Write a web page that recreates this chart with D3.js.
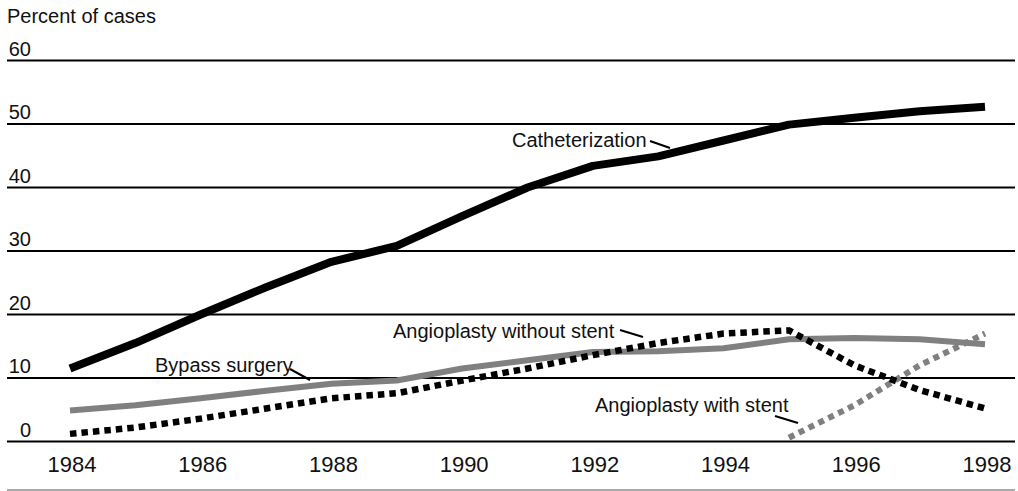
<!DOCTYPE html>
<html>
<head>
<meta charset="utf-8">
<script src="https://cdn.jsdelivr.net/npm/d3@7"></script>
<style>
  body { margin: 0; background: #fff; }
  text { font-family: "Liberation Sans", Arial, sans-serif; fill: #111; }
</style>
</head>
<body>
<div id="chart"></div>
<script>
// data
var years = [1984, 1985, 1986, 1987, 1988, 1989, 1990, 1991, 1992, 1993, 1994, 1995, 1996, 1997, 1998];
var catheterization = [11.5, 15.5, 20, 24.3, 28.3, 30.8, 35.5, 40, 43.4, 44.9, 47.4, 49.9, 51, 52, 52.7];
var bypassSurgery = [4.9, 5.7, 6.8, 8.0, 9.1, 9.6, 11.5, 12.8, 14.1, 14.2, 14.7, 16.1, 16.3, 16.1, 15.3];
var angioNoStent = [1.2, 2.2, 3.6, 5.2, 6.8, 7.6, 9.6, 11.5, 13.6, 15.5, 17.0, 17.5, 12.0, 8.1, 5.2];
var stentYears = [1995, 1996, 1997, 1998];
var angioStent = [0.6, 5.7, 12.0, 17.0];
var yTicks = [0, 10, 20, 30, 40, 50, 60];
var xTicks = [1984, 1986, 1988, 1990, 1992, 1994, 1996, 1998];

var width = 1018, height = 491;

var svg = d3.select('#chart').append('svg')
    .attr('width', width)
    .attr('height', height);

var x = d3.scaleLinear().domain([1984, 1998]).range([70, 985]);
var y = d3.scaleLinear().domain([0, 60]).range([441.5, 60.5]);

// gridlines
svg.selectAll('.grid')
    .data(yTicks)
    .enter().append('line')
        .attr('x1', 7).attr('x2', 1015)
        .attr('y1', function(d) { return y(d); })
        .attr('y2', function(d) { return y(d); })
        .attr('stroke', '#000')
        .attr('stroke-width', 2);

svg.selectAll('.ylab')
    .data(yTicks)
    .enter().append('text')
        .attr('x', 31)
        .attr('y', function(d) { return y(d) - 5; })
        .attr('text-anchor', 'end')
        .style('font-size', '20px')
        .text(function(d) { return d; });

svg.append('text')
    .attr('x', 7).attr('y', 23)
    .style('font-size', '20px')
    .text('Percent of cases');

svg.selectAll('.xlab')
    .data(xTicks)
    .enter().append('text')
        .attr('x', function(d) { return x(d) + 2; })
        .attr('y', 472)
        .attr('text-anchor', 'middle')
        .style('font-size', '22px')
        .text(function(d) { return d; });

// bottom rule
svg.append('line')
    .attr('x1', 7).attr('x2', 1015)
    .attr('y1', 490).attr('y2', 490)
    .attr('stroke', '#aaa')
    .attr('stroke-width', 2);

var line = d3.line()
    .x(function(d) { return x(d[0]); })
    .y(function(d) { return y(d[1]); });

function addSeries(xs, vals, color, w, dash) {
    var p = svg.append('path')
        .datum(d3.zip(xs, vals))
        .attr('d', line)
        .attr('fill', 'none')
        .attr('stroke', color)
        .attr('stroke-width', w)
        .attr('stroke-linejoin', 'round');
    if (dash) p.attr('stroke-dasharray', dash);
}

addSeries(years, bypassSurgery, '#808080', 6, null);
addSeries(years, catheterization, '#000', 8, null);
addSeries(stentYears, angioStent, '#808080', 6, '6,5');
addSeries(years, angioNoStent, '#000', 6.5, '6.5,5');

// labels with leader lines
var labels = [
    {text: 'Catheterization', x: 512, y: 147, lx1: 650, ly1: 141, lx2: 670, ly2: 148},
    {text: 'Bypass surgery', x: 155, y: 372, lx1: 290, ly1: 369, lx2: 310, ly2: 380},
    {text: 'Angioplasty without stent', x: 393, y: 338, lx1: 620, ly1: 330, lx2: 643, ly2: 337},
    {text: 'Angioplasty with stent', x: 595, y: 412, lx1: 775, ly1: 416, lx2: 798, ly2: 423}
];

svg.selectAll('.lab')
    .data(labels)
    .enter().append('text')
        .attr('x', function(d) { return d.x; })
        .attr('y', function(d) { return d.y; })
        .style('font-size', '20px')
        .text(function(d) { return d.text; });

svg.selectAll('.leader')
    .data(labels)
    .enter().append('line')
        .attr('x1', function(d) { return d.lx1; })
        .attr('y1', function(d) { return d.ly1; })
        .attr('x2', function(d) { return d.lx2; })
        .attr('y2', function(d) { return d.ly2; })
        .attr('stroke', '#000')
        .attr('stroke-width', 2);
</script>
</body>
</html>
